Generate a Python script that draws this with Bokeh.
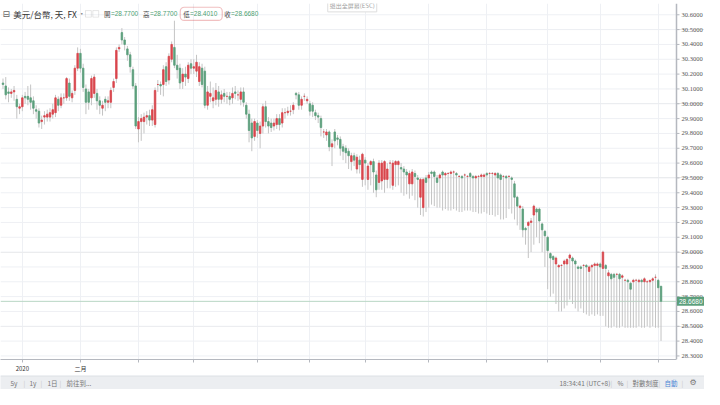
from bokeh.plotting import figure
from bokeh.models import FixedTicker, Span, Label, BoxAnnotation, Range1d
from bokeh.layouts import column
from bokeh.embed import file_html
from bokeh.resources import INLINE

# ---------------- data ----------------
opens = [
    30.14, 30.12, 30.08, 30.07, 30.08, 30.03, 29.97, 29.98, 30.05, 30.05,
    30.04, 30.02, 29.96, 29.95, 29.88, 29.91, 29.91, 29.91, 29.93, 29.94,
    30.03, 29.99, 30.04, 30.04, 30.14, 30.04, 30.09, 30.24, 30.34, 30.24,
    30.10, 30.08, 30.04, 30.07, 30.07, 30.02, 29.97, 30.03, 30.01, 30.01,
    30.11, 30.17, 30.37, 30.48, 30.43, 30.37, 30.33, 30.23, 30.12, 29.83,
    29.88, 29.88, 29.91, 29.92, 29.89, 29.86, 30.13, 30.13, 30.13, 30.25,
    30.16, 30.30, 30.38, 30.26, 30.24, 30.15, 30.20, 30.17, 30.27, 30.24,
    30.22, 30.15, 30.24, 30.22, 29.99, 30.05, 30.02, 30.03, 30.08, 30.03,
    30.07, 30.05, 30.05, 30.04, 30.08, 30.06, 30.03, 30.08, 29.99, 29.93,
    29.87, 29.78, 29.87, 29.80, 29.85, 29.98, 29.88, 29.87, 29.85, 29.86,
    29.90, 29.87, 29.94, 29.94, 29.95, 29.96, 30.07, 30.06, 29.99, 30.05,
    30.02, 30.00, 29.99, 29.94, 29.92, 29.90, 29.81, 29.79, 29.81, 29.71,
    29.81, 29.77, 29.76, 29.71, 29.70, 29.68, 29.61, 29.65, 29.56, 29.62,
    29.49, 29.62, 29.49, 29.59, 29.61, 29.52, 29.47, 29.48, 29.49, 29.49,
    29.60, 29.45, 29.59, 29.59, 29.57, 29.56, 29.54, 29.46, 29.46, 29.53,
    29.50, 29.37, 29.30, 29.50, 29.50, 29.54, 29.54, 29.50, 29.50, 29.54,
    29.52, 29.53, 29.53, 29.54, 29.53, 29.51, 29.51, 29.52, 29.51, 29.53,
    29.51, 29.50, 29.51, 29.51, 29.51, 29.53, 29.53, 29.53, 29.52, 29.53,
    29.52, 29.51, 29.51, 29.51, 29.50, 29.46, 29.37, 29.30, 29.29, 29.16,
    29.18, 29.20, 29.25, 29.29, 29.29, 29.19, 29.14, 29.10, 28.99, 28.97,
    28.92, 28.90, 28.91, 28.92, 28.92, 28.96, 28.96, 28.94, 28.90, 28.90,
    28.91, 28.91, 28.87, 28.90, 28.91, 28.91, 28.92, 28.89, 28.91, 28.84,
    28.85, 28.85, 28.85, 28.85, 28.83, 28.81, 28.81, 28.79, 28.80, 28.81,
    28.80, 28.81, 28.80, 28.80, 28.80, 28.81, 28.83, 28.81, 28.77,
]
closes = [
    30.13, 30.06, 30.07, 30.08, 30.09, 29.98, 29.98, 30.04, 30.04, 30.03,
    30.01, 29.97, 29.95, 29.87, 29.89, 29.92, 29.93, 29.94, 29.96, 30.04,
    29.99, 30.04, 30.04, 30.17, 30.05, 30.07, 30.24, 30.34, 30.24, 30.11,
    30.01, 30.01, 30.17, 30.18, 30.02, 29.99, 29.99, 30.01, 30.02, 30.09,
    30.15, 30.36, 30.38, 30.43, 30.40, 30.33, 30.25, 30.12, 29.85, 29.88,
    29.90, 29.91, 29.92, 29.89, 29.96, 30.09, 30.13, 30.12, 30.23, 30.15,
    30.32, 30.40, 30.26, 30.23, 30.14, 30.20, 30.18, 30.26, 30.24, 30.25,
    30.28, 30.25, 30.13, 29.99, 30.08, 30.07, 30.04, 30.09, 30.03, 30.06,
    30.05, 30.05, 30.03, 30.07, 30.07, 30.06, 30.08, 30.01, 29.93, 29.82,
    29.77, 29.88, 29.82, 29.85, 29.98, 29.88, 29.85, 29.84, 29.87, 29.90,
    29.86, 29.94, 29.94, 29.95, 29.95, 29.99, 30.06, 29.99, 30.03, 30.05,
    30.03, 29.95, 29.95, 29.92, 29.91, 29.84, 29.81, 29.81, 29.71, 29.73,
    29.75, 29.76, 29.70, 29.68, 29.67, 29.65, 29.65, 29.62, 29.64, 29.59,
    29.66, 29.60, 29.58, 29.61, 29.54, 29.42, 29.60, 29.60, 29.61, 29.56,
    29.60, 29.60, 29.61, 29.61, 29.56, 29.54, 29.52, 29.53, 29.54, 29.51,
    29.49, 29.49, 29.49, 29.47, 29.52, 29.53, 29.51, 29.47, 29.52, 29.52,
    29.53, 29.53, 29.54, 29.54, 29.52, 29.51, 29.50, 29.52, 29.51, 29.51,
    29.50, 29.51, 29.51, 29.52, 29.52, 29.52, 29.53, 29.53, 29.53, 29.50,
    29.49, 29.51, 29.50, 29.51, 29.49, 29.37, 29.31, 29.31, 29.15, 29.15,
    29.20, 29.21, 29.31, 29.27, 29.21, 29.15, 29.11, 29.01, 28.96, 28.95,
    28.96, 28.91, 28.91, 28.94, 28.95, 28.98, 28.94, 28.92, 28.89, 28.89,
    28.91, 28.90, 28.90, 28.91, 28.92, 28.92, 28.90, 29.00, 28.89, 28.86,
    28.82, 28.83, 28.85, 28.82, 28.84, 28.81, 28.80, 28.75, 28.81, 28.81,
    28.81, 28.80, 28.82, 28.80, 28.81, 28.82, 28.83, 28.76, 28.668,
]
highs = [
    30.17, 30.18, 30.11, 30.10, 30.12, 30.06, 30.00, 30.06, 30.08, 30.12,
    30.13, 30.05, 29.99, 29.97, 29.92, 29.95, 29.96, 29.97, 30.00, 30.06,
    30.05, 30.07, 30.07, 30.18, 30.17, 30.09, 30.26, 30.38, 30.37, 30.27,
    30.13, 30.10, 30.19, 30.20, 30.10, 30.05, 30.02, 30.05, 30.05, 30.11,
    30.17, 30.38, 30.40, 30.51, 30.45, 30.39, 30.35, 30.25, 30.14, 29.91,
    29.93, 29.94, 29.95, 29.96, 29.99, 30.11, 30.16, 30.15, 30.26, 30.28,
    30.34, 30.42, 30.56, 30.33, 30.27, 30.24, 30.25, 30.28, 30.30, 30.30,
    30.33, 30.28, 30.27, 30.25, 30.12, 30.15, 30.11, 30.14, 30.12, 30.09,
    30.10, 30.08, 30.08, 30.11, 30.12, 30.09, 30.11, 30.11, 30.01, 29.96,
    29.90, 29.90, 29.89, 29.88, 30.00, 30.02, 29.91, 29.90, 29.90, 29.93,
    29.93, 29.97, 29.97, 29.98, 29.99, 30.01, 30.08, 30.08, 30.05, 30.07,
    30.05, 30.02, 30.01, 29.96, 29.94, 29.92, 29.83, 29.83, 29.82, 29.76,
    29.83, 29.79, 29.78, 29.73, 29.72, 29.70, 29.67, 29.67, 29.66, 29.65,
    29.67, 29.64, 29.60, 29.62, 29.63, 29.55, 29.62, 29.62, 29.62, 29.60,
    29.62, 29.62, 29.62, 29.62, 29.60, 29.58, 29.56, 29.55, 29.56, 29.55,
    29.52, 29.50, 29.50, 29.52, 29.54, 29.55, 29.55, 29.52, 29.53, 29.55,
    29.54, 29.54, 29.55, 29.55, 29.54, 29.52, 29.52, 29.53, 29.52, 29.54,
    29.52, 29.52, 29.52, 29.53, 29.53, 29.54, 29.54, 29.54, 29.54, 29.54,
    29.53, 29.52, 29.52, 29.52, 29.51, 29.48, 29.38, 29.32, 29.31, 29.17,
    29.21, 29.23, 29.32, 29.30, 29.30, 29.20, 29.15, 29.11, 29.00, 28.98,
    28.97, 28.92, 28.92, 28.95, 28.96, 28.99, 28.97, 28.95, 28.91, 28.91,
    28.92, 28.92, 28.91, 28.92, 28.93, 28.93, 28.93, 29.01, 28.92, 28.88,
    28.86, 28.86, 28.86, 28.86, 28.85, 28.82, 28.82, 28.80, 28.82, 28.82,
    28.82, 28.82, 28.83, 28.81, 28.81, 28.83, 28.85, 28.82, 28.77,
]
lows = [
    30.10, 30.03, 30.01, 30.04, 30.02, 29.90, 29.93, 29.95, 30.00, 29.99,
    29.96, 29.93, 29.90, 29.84, 29.83, 29.86, 29.88, 29.88, 29.90, 29.91,
    29.95, 29.97, 30.00, 30.02, 30.02, 30.01, 30.06, 30.22, 30.21, 30.08,
    29.93, 29.96, 29.99, 30.04, 29.96, 29.93, 29.92, 29.95, 29.97, 29.97,
    30.08, 30.14, 30.35, 30.40, 30.36, 30.29, 30.21, 30.10, 29.83, 29.74,
    29.75, 29.80, 29.86, 29.85, 29.85, 29.84, 30.08, 30.06, 30.05, 30.12,
    30.13, 30.28, 30.24, 30.17, 30.10, 30.10, 30.12, 30.14, 30.20, 30.20,
    30.18, 30.12, 30.11, 29.97, 29.96, 30.01, 29.97, 29.99, 29.98, 30.00,
    30.01, 30.00, 29.99, 30.00, 30.03, 30.02, 29.99, 29.98, 29.90, 29.74,
    29.68, 29.75, 29.77, 29.70, 29.80, 29.84, 29.80, 29.81, 29.82, 29.83,
    29.82, 29.84, 29.90, 29.92, 29.92, 29.93, 30.03, 29.96, 29.96, 30.02,
    30.00, 29.92, 29.91, 29.89, 29.87, 29.78, 29.77, 29.75, 29.68, 29.58,
    29.70, 29.72, 29.65, 29.62, 29.60, 29.56, 29.55, 29.58, 29.53, 29.53,
    29.44, 29.45, 29.42, 29.45, 29.40, 29.37, 29.42, 29.42, 29.40, 29.43,
    29.43, 29.42, 29.44, 29.45, 29.40, 29.38, 29.39, 29.36, 29.38, 29.35,
    29.30, 29.25, 29.24, 29.27, 29.30, 29.32, 29.31, 29.30, 29.30, 29.28,
    29.29, 29.28, 29.28, 29.29, 29.28, 29.27, 29.27, 29.28, 29.28, 29.28,
    29.27, 29.27, 29.26, 29.26, 29.27, 29.26, 29.25, 29.25, 29.24, 29.25,
    29.22, 29.22, 29.23, 29.29, 29.26, 29.22, 29.18, 29.15, 29.10, 29.05,
    28.96, 29.00, 29.05, 29.10, 29.06, 29.00, 28.90, 28.75, 28.70, 28.72,
    28.65, 28.60, 28.60, 28.62, 28.64, 28.68, 28.65, 28.62, 28.60, 28.62,
    28.59, 28.58, 28.57, 28.58, 28.57, 28.58, 28.57, 28.57, 28.50, 28.49,
    28.49, 28.50, 28.49, 28.49, 28.50, 28.49, 28.49, 28.49, 28.49, 28.49,
    28.50, 28.49, 28.49, 28.50, 28.49, 28.50, 28.49, 28.49, 28.401,
]
month_ticks = [7, 28, 49, 69, 92, 111, 131, 154, 175, 197, 216, 237]
month_labels = ["2020", "二月", "", "", "", "", "", "", "", "", "", ""]
price_ticks = [28.3, 28.4, 28.5, 28.6, 28.7, 28.8, 28.9, 29.0, 29.1, 29.2, 29.3, 29.4,
               29.5, 29.6, 29.7, 29.8, 29.9, 30.0, 30.1, 30.2, 30.3, 30.4, 30.5, 30.6]
symbol_title = "美元/台幣, 天, FX"
ohlc_names = ["開", "高", "低", "收"]
ohlc_values = ["=28.7700", "=28.7700", "=28.4010", "=28.6680"]
last_price = 28.668
bar_left = ["5y", "1y", "1日", "前往到..."]
bar_right = ["18:34:41 (UTC+8)", "%", "對數刻度", "自動"]

# ---------------- styling ----------------
UP = "#d9464d"
DOWN = "#5c9f7c"
WICK = "#c4c4c4"
TXT = "#555555"
AXC = "#b5b8bf"
GRID = "#eef0f4"
FONT = "Liberation Sans"
CJK = "Noto Sans CJK TC"

n = len(closes)
idx = list(range(n))

W = 704
H_BAR = 14
H_MAIN = 389 - H_BAR
X0 = -0.9            # left edge of the price pane (candle index units)
AX = 243.6           # position of the right price axis
PX = (AX - X0) / 676.0   # index units per pixel
XR = X0 + W * PX     # frame extends over the axis area
Y0, Y1 = 28.276, 30.676

p = figure(width=W, height=H_MAIN, output_backend="svg", toolbar_location=None,
           x_range=Range1d(X0, XR), y_range=Range1d(Y0, Y1), y_axis_location=None,
           min_border_left=0, min_border_top=3, min_border_right=0, min_border_bottom=9,
           background_fill_color="white", border_fill_color="white", outline_line_color=None)

def fx(px):
    return X0 + px / 692.0 * (AX - X0)

def fy(py):
    return Y1 - (py - 3) / 378.0 * (Y1 - Y0)

# x axis (months)
p.xgrid.grid_line_color = GRID
p.xaxis.ticker = FixedTicker(ticks=month_ticks)
p.xaxis.bounds = (X0, AX)
p.xaxis.major_label_overrides = {t: l for t, l in zip(month_ticks, month_labels)}
p.xaxis.major_label_text_font_size = "6px"
p.xaxis.major_label_text_font = CJK
p.xaxis.major_label_text_color = "#333333"
p.xaxis.axis_line_color = AXC
p.xaxis.major_tick_line_color = AXC
p.xaxis.major_tick_out = 3
p.xaxis.major_tick_in = 0
p.xaxis.minor_tick_line_color = None
p.xaxis.major_label_standoff = 1

# price grid, right price scale (drawn inside the canvas so the price tag can overlap it)
nt = len(price_ticks)
p.segment(x0=[X0] * nt, x1=[AX] * nt, y0=price_ticks, y1=price_ticks, line_color=GRID, line_width=1)
p.segment(x0=[AX] * nt, x1=[AX + 3 * PX] * nt, y0=price_ticks, y1=price_ticks, line_color=AXC, line_width=1)
p.segment(x0=[AX], x1=[AX], y0=[Y0], y1=[Y1], line_color=AXC, line_width=1.5)
p.text(x=[AX + 5 * PX] * nt, y=price_ticks, text=["%.4f" % t for t in price_ticks],
       text_font_size="6.5px", text_font=FONT, text_color=TXT, text_baseline="middle", text_align="left")

# last price line
p.segment(x0=[X0], x1=[AX], y0=[last_price], y1=[last_price], line_color="#b9d6c5", line_width=1)

# candles
colors = [UP if c >= o else DOWN for o, c in zip(opens, closes)]
tops = [max(o, c) for o, c in zip(opens, closes)]
bottoms = [min(o, c) for o, c in zip(opens, closes)]
p.segment(x0=idx, y0=lows, x1=idx, y1=highs, line_color=WICK, line_width=1)
p.vbar(x=idx, width=0.55, top=tops, bottom=bottoms, fill_color=colors, line_color=colors, line_width=0.8)

# last price tag
p.add_layout(Label(x=AX, y=last_price, x_offset=0.5, text="%.4f" % last_price, text_color="white",
                   text_font_size="6.5px", text_font=FONT, text_baseline="middle",
                   background_fill_color=DOWN, padding=2))

# header
def lab(px, text, color, size, font=CJK, py=14):
    p.add_layout(Label(x=fx(px), y=fy(py), text=text, text_color=color, text_font_size=size,
                       text_font=font, text_baseline="middle", text_align="left"))

lab(2, "⊟", "#666666", "9px", font="DejaVu Sans")
lab(13, symbol_title, "#333333", "8.5px")
lab(79, "·", "#888888", "8px")
p.add_layout(BoxAnnotation(left=fx(87), right=fx(93), top=fy(10.5), bottom=fy(17.5),
                           fill_alpha=0, line_color="#b0b0b0", line_width=1))
p.add_layout(BoxAnnotation(left=fx(94.5), right=fx(100.5), top=fy(10.5), bottom=fy(17.5),
                           fill_alpha=0, line_color="#b0b0b0", line_width=1))
name_px = [106, 146, 187, 229]
val_px = [113, 153, 194, 236]
for npx, vpx, nm, vl in zip(name_px, val_px, ohlc_names, ohlc_values):
    lab(npx, nm, "#444444", "6.5px")
    lab(vpx, vl, "#4f9f73", "6.5px", font=FONT)
p.add_layout(BoxAnnotation(left=fx(184), right=fx(227), top=fy(7), bottom=fy(21),
                           fill_alpha=0, line_color="#cf2f33", line_width=1.2, border_radius=4))

p.add_layout(Label(x=fx(335), y=fy(5), text="退出全屏幕(ESC)", text_color="#a0a0a0",
                   text_font_size="6px", text_font=CJK, text_baseline="middle",
                   background_fill_color="white", border_line_color="#dddddd", padding=2))

# ---------------- bottom bar ----------------
bar = figure(width=W, height=H_BAR, output_backend="svg", toolbar_location=None,
             x_range=Range1d(0, W), y_range=Range1d(0, H_BAR), min_border=0,
             background_fill_color="#eceef1", border_fill_color="#eceef1", outline_line_color=None)
bar.axis.visible = False
bar.grid.visible = False
bar.add_layout(Span(location=H_BAR - 0.5, dimension="width", line_color="#dcdfe4", line_width=1))

def blab(x, text, color="#777777", font=CJK, size="6.5px"):
    bar.add_layout(Label(x=x, y=H_BAR / 2, text=text, text_color=color, text_font_size=size,
                         text_font=font, text_baseline="middle", text_align="left"))

for x, t in zip([10, 29, 47, 66], bar_left):
    blab(x, t)
for x in [23, 40, 59]:
    blab(x, "|", "#c8c8c8")
for x, t, c in zip([559, 617, 632, 664], bar_right, ["#777777", "#777777", "#777777", "#4d86d6"]):
    blab(x, t, c)
for x in [610, 626, 658, 681]:
    blab(x, "|", "#c8c8c8")
blab(689, "⚙", "#777777", font="DejaVu Sans", size="8px")

layout = column(p, bar, spacing=0)
open("out.html", "w").write(file_html(layout, INLINE))
